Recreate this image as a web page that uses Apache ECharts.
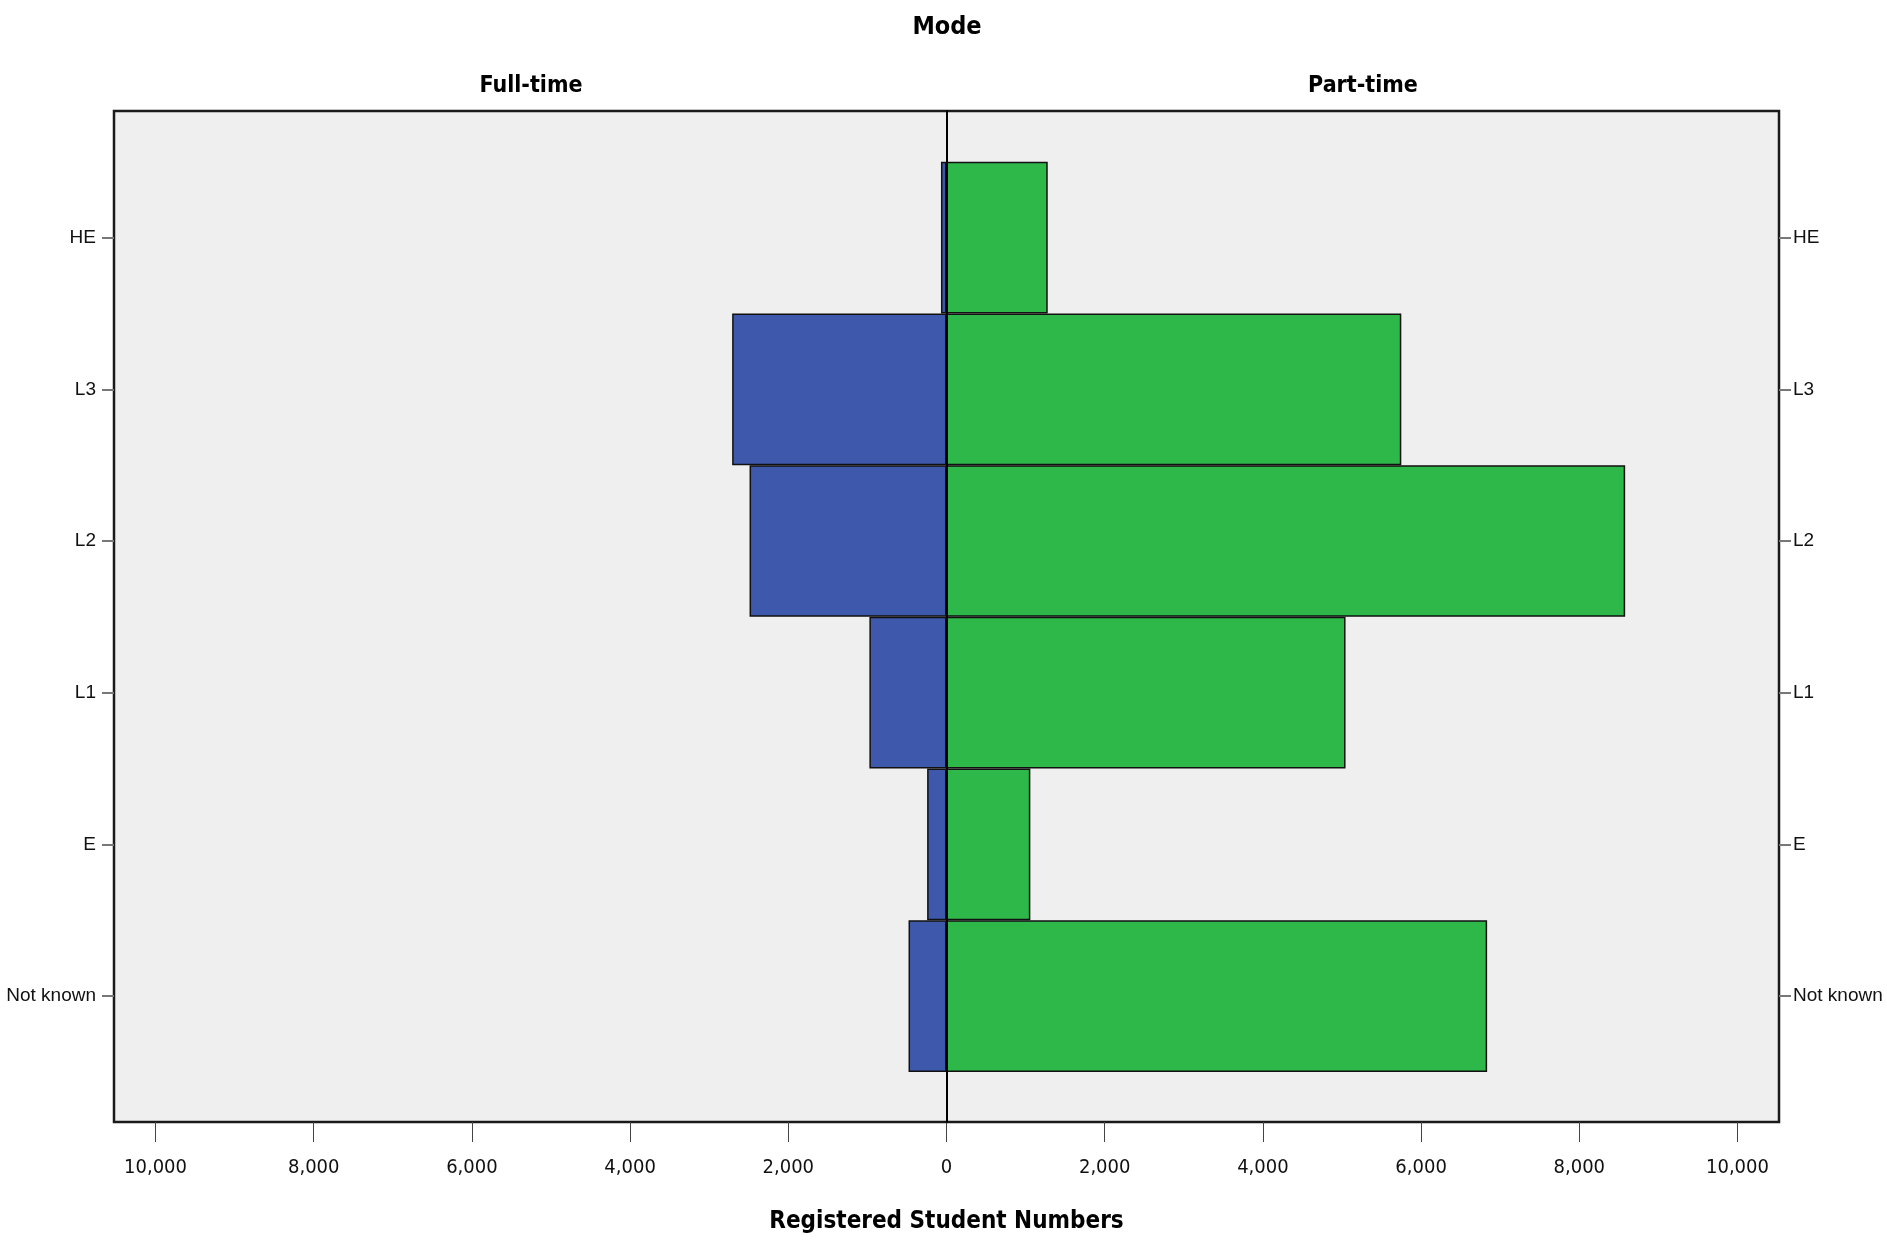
<!DOCTYPE html>
<html>
<head>
<meta charset="utf-8">
<script src="https://cdn.jsdelivr.net/npm/echarts@6/dist/echarts.min.js"></script>
<style>
  html, body { margin: 0; padding: 0; background: #ffffff; }
  #chart { width: 1887px; height: 1241px; }
</style>
</head>
<body>
<div id="chart"></div>
<script>
// ---- data ----
const categories = ['HE', 'L3', 'L2', 'L1', 'E', 'Not known'];
const fullTime = [70, 2710, 2490, 975, 245, 480];
const partTime = [1280, 5750, 8580, 5045, 1060, 6835];
const tickValues = [-10000, -8000, -6000, -4000, -2000, 0, 2000, 4000, 6000, 8000, 10000];
const panelTitles = ['Full-time', 'Part-time'];
const mainTitle = 'Mode';
const xTitle = 'Registered Student Numbers';

const AX_MIN = -10525, AX_MAX = 10525;
const condFont = "'Liberation Sans Narrow', 'DejaVu Sans Condensed', sans-serif";
const boldCond = "'DejaVu Sans Condensed', 'Liberation Sans Narrow', sans-serif";

function fmt(v) {
  return Math.abs(v).toString().replace(/\B(?=(\d{3})+(?!\d))/g, ',');
}

const chart = echarts.init(document.getElementById('chart'), null, { renderer: 'canvas' });

const gridLeft = 114, gridRight = 108;

const option = {
  backgroundColor: '#ffffff',
  animation: false,
  title: [
    { text: mainTitle, left: 942, top: 10, textAlign: 'center',
      textStyle: { fontFamily: boldCond, fontWeight: 'bold', fontSize: 25, color: '#000' } },
    { text: panelTitles[0], left: 526, top: 70, textAlign: 'center',
      textStyle: { fontFamily: boldCond, fontWeight: 'bold', fontSize: 23, color: '#000' } },
    { text: panelTitles[1], left: 1358, top: 70, textAlign: 'center',
      textStyle: { fontFamily: boldCond, fontWeight: 'bold', fontSize: 23, color: '#000' } }
  ],
  grid: [
    { left: gridLeft, right: gridRight, top: 111, height: 1011, show: true,
      backgroundColor: '#efefef', borderColor: '#1a1a1a', borderWidth: 2.5, containLabel: false },
    { left: gridLeft, right: gridRight, top: 161.7, height: 910.3, show: false, containLabel: false }
  ],
  xAxis: [
    { type: 'value', gridIndex: 0, min: AX_MIN, max: AX_MAX,
      axisLine: { show: false },
      axisTick: { show: true, customValues: tickValues, length: 20, lineStyle: { color: '#444', width: 1 } },
      axisLabel: { show: true, customValues: tickValues, formatter: fmt, margin: 36,
        fontFamily: condFont, fontSize: 20, color: '#111' },
      splitLine: { show: false },
      name: xTitle, nameLocation: 'middle', nameGap: 88,
      nameTextStyle: { fontFamily: boldCond, fontWeight: 'bold', fontSize: 24, color: '#000' }
    },
    { type: 'value', gridIndex: 1, min: AX_MIN, max: AX_MAX, show: false }
  ],
  yAxis: [
    { type: 'value', gridIndex: 0, min: 0, max: 1, z: 10,
      axisLine: { show: true, onZero: true, lineStyle: { color: '#000', width: 2 } },
      axisTick: { show: false }, axisLabel: { show: false }, splitLine: { show: false } },
    { type: 'category', gridIndex: 1, data: categories, inverse: true, position: 'left',
      axisLine: { show: false, onZero: false },
      axisTick: { show: true, alignWithLabel: true, length: 12, lineStyle: { color: '#777', width: 2 } },
      axisLabel: { margin: 18, fontFamily: "'Liberation Sans', Arial, sans-serif", fontSize: 19, color: '#111' } },
    { type: 'category', gridIndex: 1, data: categories, inverse: true, position: 'right',
      axisLine: { show: false, onZero: false },
      axisTick: { show: true, alignWithLabel: true, length: 12, lineStyle: { color: '#777', width: 2 } },
      axisLabel: { margin: 14, fontFamily: "'Liberation Sans', Arial, sans-serif", fontSize: 19, color: '#111' } }
  ],
  series: [
    { name: panelTitles[0], type: 'bar', xAxisIndex: 1, yAxisIndex: 1,
      data: fullTime.map(v => -v), barWidth: '100%', barGap: '-100%',
      itemStyle: { color: '#3e58ab', borderColor: '#111', borderWidth: 1.5 } },
    { name: panelTitles[1], type: 'bar', xAxisIndex: 1, yAxisIndex: 1,
      data: partTime, barWidth: '100%', barGap: '-100%',
      itemStyle: { color: '#2fb84a', borderColor: '#111', borderWidth: 1.5 } }
  ]
};

chart.setOption(option);
</script>
</body>
</html>
